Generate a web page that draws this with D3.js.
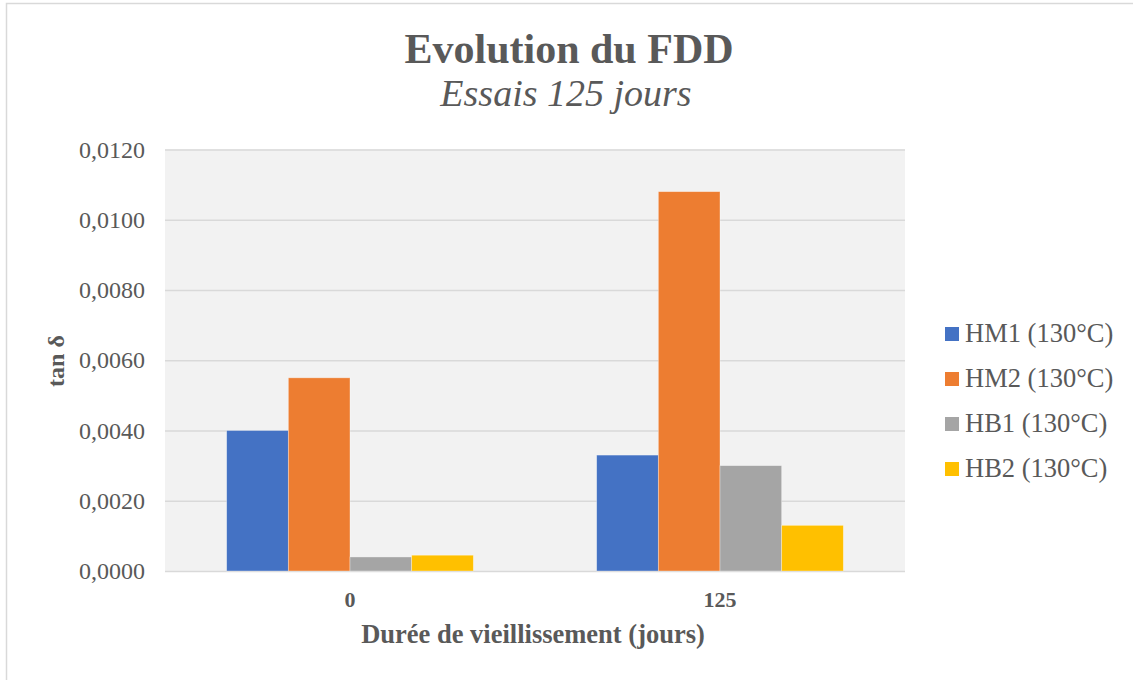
<!DOCTYPE html>
<html>
<head>
<meta charset="utf-8">
<script src="https://cdn.jsdelivr.net/npm/d3@7"></script>
<style>
  html, body { margin: 0; padding: 0; background: #ffffff; }
  svg { display: block; }
  text { font-family: "Liberation Serif", "Times New Roman", serif; fill: #595959; }
</style>
</head>
<body>
<svg id="chart" width="1133" height="680"></svg>
<script>
// Ageing durations (days) on the category axis
const categories = ["0", "125"];
// Series names shown in the legend
const seriesNames = ["HM1 (130°C)", "HM2 (130°C)", "HB1 (130°C)", "HB2 (130°C)"];
// tan δ per series, one value per category
const hm1 = [0.0040, 0.0033];
const hm2 = [0.0055, 0.0108];
const hb1 = [0.0004, 0.0030];
const hb2 = [0.00045, 0.0013];
const yTicks = [0, 0.002, 0.004, 0.006, 0.008, 0.010, 0.012];
const colors = ["#4472c4", "#ed7d31", "#a5a5a5", "#ffc000"];

const seriesValues = [hm1, hm2, hb1, hb2];

const svg = d3.select("#chart");

// outer chart frame
svg.append("rect")
  .attr("x", 6.5).attr("y", 3.5)
  .attr("width", 1200).attr("height", 800)
  .attr("fill", "none").attr("stroke", "#d9d9d9").attr("stroke-width", 1.5);

const plot = { left: 165, right: 905, top: 149.5, bottom: 571 };

const x0 = d3.scaleBand()
  .domain(categories)
  .range([plot.left, plot.right])
  .paddingInner(0).paddingOuter(0);

// gap between groups equals two bar widths
const x1 = d3.scaleBand()
  .domain(seriesNames)
  .range([x0.bandwidth() / 6, x0.bandwidth() * 5 / 6])
  .padding(0);

const y = d3.scaleLinear()
  .domain([0, 0.012])
  .range([plot.bottom, plot.top]);

// plot background
svg.append("rect")
  .attr("x", plot.left).attr("y", plot.top)
  .attr("width", plot.right - plot.left).attr("height", plot.bottom - plot.top)
  .attr("fill", "#f2f2f2");

// horizontal gridlines and y tick labels
const yAxis = d3.axisLeft(y)
  .tickValues(yTicks)
  .tickSize(-(plot.right - plot.left))
  .tickPadding(20)
  .tickFormat(d => d3.format(".4f")(d).replace(".", ","));

const gy = svg.append("g")
  .attr("transform", `translate(${plot.left},0)`)
  .call(yAxis);
gy.select(".domain").remove();
gy.selectAll(".tick line").attr("stroke", "#d9d9d9").attr("stroke-width", 1.5);
gy.selectAll(".tick text")
  .attr("font-size", 24)
  .attr("fill", "#595959")
  .style("font-family", "'Liberation Serif', 'Times New Roman', serif");

// bars
const groups = svg.append("g")
  .selectAll("g")
  .data(categories)
  .join("g")
  .attr("transform", d => `translate(${x0(d)},0)`);

groups.selectAll("rect")
  .data((c, ci) => seriesNames.map((s, si) => ({ s, si, v: seriesValues[si][ci] })))
  .join("rect")
  .attr("x", d => x1(d.s))
  .attr("width", x1.bandwidth())
  .attr("y", d => y(d.v))
  .attr("height", d => y(0) - y(d.v))
  .attr("fill", d => colors[d.si])
  .attr("stroke", "#ffffff")
  .attr("stroke-opacity", 0.45)
  .attr("stroke-width", 0.75);

// category axis labels
const xAxis = d3.axisBottom(x0).tickSize(0).tickPadding(0);
const gx = svg.append("g")
  .attr("transform", `translate(0,${plot.bottom})`)
  .call(xAxis);
gx.select(".domain").remove();
gx.selectAll(".tick text")
  .attr("y", 36)
  .attr("dy", null)
  .attr("font-size", 22)
  .attr("font-weight", "bold")
  .attr("fill", "#595959")
  .style("font-family", "'Liberation Serif', 'Times New Roman', serif");

// titles
svg.append("text")
  .attr("x", 569).attr("y", 63)
  .attr("text-anchor", "middle")
  .attr("font-size", 42).attr("font-weight", "bold")
  .text("Evolution du FDD");

svg.append("text")
  .attr("x", 566).attr("y", 106)
  .attr("text-anchor", "middle")
  .attr("font-size", 38).attr("font-style", "italic")
  .text("Essais 125 jours");

// axis titles
svg.append("text")
  .attr("x", 533).attr("y", 643)
  .attr("text-anchor", "middle")
  .attr("font-size", 26.5).attr("font-weight", "bold")
  .text("Durée de vieillissement (jours)");

svg.append("text")
  .attr("transform", "translate(64,361) rotate(-90)")
  .attr("text-anchor", "middle")
  .attr("font-size", 24).attr("font-weight", "bold")
  .text("tan δ");

// legend
const legend = svg.append("g")
  .selectAll("g")
  .data(seriesNames)
  .join("g")
  .attr("transform", (d, i) => `translate(945,${327 + i * 45})`);

legend.append("rect")
  .attr("width", 14).attr("height", 14)
  .attr("fill", (d, i) => colors[i]);

legend.append("text")
  .attr("x", 20).attr("y", 15)
  .attr("font-size", 26.5)
  .text(d => d);
</script>
</body>
</html>
